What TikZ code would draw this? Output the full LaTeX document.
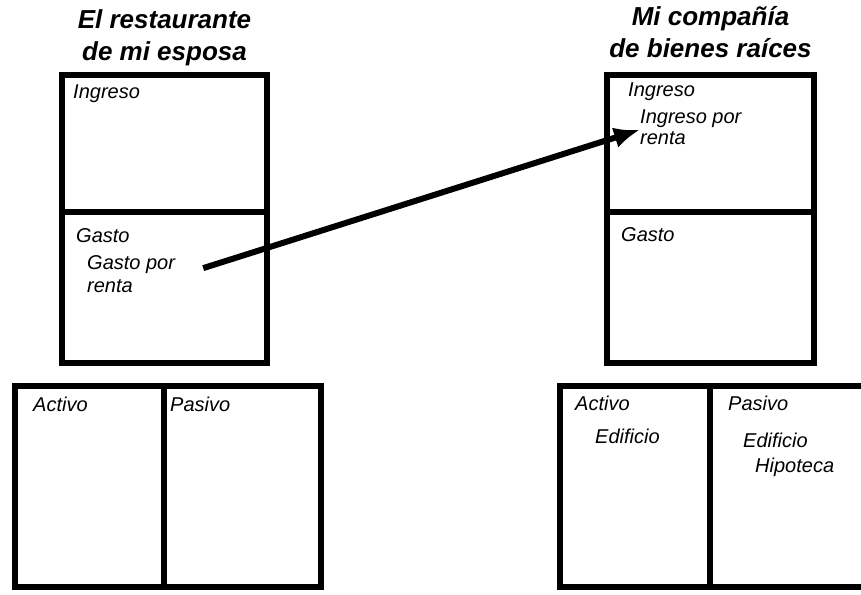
\documentclass[tikz,border=0pt]{standalone}
\usepackage{fontspec}
\setmainfont{Liberation Sans}
\usetikzlibrary{arrows.meta,positioning}
\tikzset{
  cell/.style={rectangle, draw=black, line width=5.5pt, inner sep=0pt, outer sep=0pt},
  heading/.style={align=center, inner sep=0pt, text depth=0pt, font=\bfseries\itshape\fontsize{26}{32}\selectfont},
  lbl/.style={anchor=base west, inner sep=0pt, font=\itshape\fontsize{20}{23}\selectfont},
  arrow/.style={-{Latex[length=26pt,width=21pt]}, line width=6pt, draw=black}
}

\begin{document}
\begin{tikzpicture}[x=1pt, y=-1pt]
\useasboundingbox (0,0) rectangle (861,594);
\clip (0,0) rectangle (861,594);
\node[cell, minimum width=205pt, minimum height=137pt, anchor=north west] (ingA) at (62,75) {};
\node[cell, minimum width=205pt, minimum height=151pt, below=0pt of ingA] (gasA) {};
\node[cell, minimum width=149pt, minimum height=201pt, anchor=north west] (actA) at (15,386) {};
\node[cell, minimum width=157pt, minimum height=201pt, right=0pt of actA] (pasA) {};
\node[heading, above=14pt of ingA] (titleA) {El restaurante\\de mi esposa};
\node[cell, minimum width=207pt, minimum height=137pt, anchor=north west] (ingB) at (607,75) {};
\node[cell, minimum width=207pt, minimum height=151pt, below=0pt of ingB] (gasB) {};
\node[cell, minimum width=150pt, minimum height=201pt, anchor=north west] (actB) at (560,386) {};
\node[cell, minimum width=157pt, minimum height=201pt, right=0pt of actB] (pasB) {};
\node[heading, above=17pt of ingB] (titleB) {Mi compañía\\de bienes raíces};
\node[lbl] (ingLblA) at (73,98) {Ingreso};
\node[lbl] (gasLblA) at (76,242) {Gasto};
\node[lbl, align=left] (rentA) at (87,292) {Gasto por\\renta};
\node[lbl] (actLblA) at (33,411) {Activo};
\node[lbl] (pasLblA) at (170,411) {Pasivo};
\node[lbl] (ingLblB) at (628,96) {Ingreso};
\node[lbl, align=left, font=\itshape\fontsize{20}{21}\selectfont] (rentB) at (640,144) {Ingreso por\\renta};
\node[lbl] (gasLblB) at (621,241) {Gasto};
\node[lbl] (actLblB) at (575,410) {Activo};
\node[lbl] (edifAct) at (595,443) {Edificio};
\node[lbl] (pasLblB) at (728,410) {Pasivo};
\node[lbl] (edifPas) at (743,447) {Edificio};
\node[lbl] (hipoPas) at (755,472) {Hipoteca};
\draw[arrow] ([xshift=28pt, yshift=5.5pt]rentA.east) -- ([yshift=-3pt]rentB.west);
\end{tikzpicture}
\end{document}
